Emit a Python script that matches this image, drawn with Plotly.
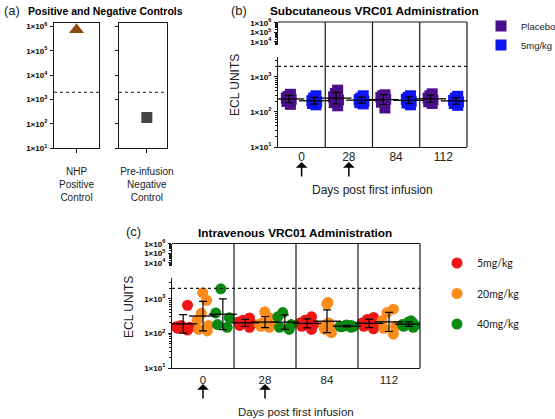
import numpy as np
import plotly.graph_objects as go

W, H = 555, 419

# ---------------- data ----------------
control_labels = ["NHP<br>Positive<br>Control", "Pre-infusion<br>Negative<br>Control"]
control_values = [750000, 185]
threshold = 2000

days = ["0", "28", "84", "112"]
infusion_days = ["0", "28"]

sc_names = ["Placebo", "5mg/kg"]
sc_placebo = [[320, 280, 250, 230, 200, 165],
              [420, 340, 270, 220, 185, 150],
              [310, 290, 260, 230, 190, 130],
              [330, 290, 250, 220, 195, 175]]
sc_5mg = [[290, 250, 210, 195, 175, 160],
          [290, 250, 225, 205, 185, 170],
          [290, 260, 230, 200, 180, 160],
          [280, 250, 215, 195, 175, 155]]

iv_names = ["5mg/kg", "20mg/kg", "40mg/kg"]
iv_5 = [[650, 170, 155, 150, 140, 125],
        [280, 240, 210, 190, 170, 150],
        [300, 240, 200, 180, 160, 130],
        [290, 250, 200, 180, 160, 135]]
iv_20 = [[1500, 900, 380, 240, 170, 130, 118],
         [420, 290, 210, 185, 170, 160, 150],
         [780, 700, 200, 180, 160, 150, 130, 105],
         [500, 400, 230, 160, 140, 95]]
iv_40 = [[1940, 390, 285, 180, 150],
         [400, 300, 180, 150, 130],
         [175, 170, 165, 160, 158, 155, 150],
         [230, 215, 200, 190, 180, 170, 160, 150]]

# ---------------- styling ----------------
FONT = "Liberation Sans"
LINE = "#1a1a1a"
sc_colors = ["#4b0f8c", "#0f14f2"]
iv_colors = ["#f01616", "#fb8c1c", "#0b8a12"]

def px(p):
    return p / W

def py(p):
    return 1 - p / H

def dec_label(e):
    return "1×10<sup>%d</sup>" % e

tickfont = dict(family=FONT, size=8, color="black", weight="bold")
minor_all = [k * 10 ** e for e in range(1, 7) for k in range(2, 10)]

def log_axis(domain, rng, exps, anchor, labels=True, minor=True):
    d = dict(domain=domain, type="log", range=rng, anchor=anchor,
             tickmode="array", tickvals=[10 ** e for e in exps],
             ticktext=[dec_label(e) for e in exps],
             ticks="outside", ticklen=3, tickwidth=1, tickcolor=LINE,
             showline=True, linecolor=LINE, linewidth=1.2,
             showgrid=False, zeroline=False, tickfont=tickfont,
             showticklabels=labels, ticklabelstandoff=1)
    if minor:
        d["minor"] = dict(tickmode="array", tickvals=minor_all, ticks="outside",
                          ticklen=2, tickwidth=0.8, tickcolor=LINE, showgrid=False)
    return d

fig = go.Figure()

def geo_stats(vals):
    lg = np.log10(np.asarray(vals, dtype=float))
    m, s = lg.mean(), lg.std(ddof=1)
    c = 10 ** m
    return c, 10 ** (m + s) - c, c - 10 ** (m - s)

def add_group_series(series, colors, offsets, xa, ya, symbol, msize, bw, jit, mwidth):
    for si, (data, col) in enumerate(zip(series, colors)):
        for gi, vals in enumerate(data):
            xc = gi + 0.5 + offsets[si]
            fig.add_trace(go.Box(
                x=[xc] * len(vals), y=vals, xaxis=xa, yaxis=ya,
                boxpoints="all", jitter=jit, pointpos=0, width=bw,
                fillcolor="rgba(0,0,0,0)", line=dict(width=0, color="rgba(0,0,0,0)"),
                whiskerwidth=0, showlegend=False, hoverinfo="y",
                marker=dict(symbol=symbol, size=msize, color=col, line=dict(width=0))))
    for si, (data, col) in enumerate(zip(series, colors)):
        cs, ups, dns, xs = [], [], [], []
        for gi, vals in enumerate(data):
            c, u, d = geo_stats(vals)
            cs.append(c); ups.append(u); dns.append(d); xs.append(gi + 0.5 + offsets[si])
        fig.add_trace(go.Scatter(
            x=xs, y=cs, xaxis=xa, yaxis=ya, mode="markers", showlegend=False,
            marker=dict(symbol="line-ew", size=mwidth, color="black",
                        line=dict(width=1.3, color="black")),
            error_y=dict(type="data", array=ups, arrayminus=dns, symmetric=False,
                         thickness=1.2, width=4, color="black"),
            hoverinfo="skip"))

# ---------------- panel (a) ----------------
fig.add_trace(go.Scatter(x=[0], y=[control_values[0]], xaxis="x", yaxis="y", mode="markers",
                         marker=dict(symbol="triangle-up", size=13, color="#8a4a0c"),
                         showlegend=False))
fig.add_trace(go.Scatter(x=[0], y=[control_values[1]], xaxis="x2", yaxis="y2", mode="markers",
                         marker=dict(symbol="square", size=11, color="#444444"),
                         showlegend=False))
for xa, ya, xr in [("x", "y", [-0.5, 0.5]), ("x2", "y2", [-0.58, 0.42])]:
    fig.add_trace(go.Scatter(x=xr, y=[threshold, threshold], xaxis=xa, yaxis=ya, mode="lines",
                             line=dict(color=LINE, width=1.1, dash="dot"),
                             showlegend=False, hoverinfo="skip"))

# ---------------- panel (b) ----------------
add_group_series([sc_placebo, sc_5mg], sc_colors, [-0.27, 0.27], "x3", "y3",
                 "square", 11, 0.14, 0.9, 22)
fig.add_trace(go.Scatter(x=[0, len(days)], y=[threshold, threshold], xaxis="x3", yaxis="y3",
                         mode="lines", line=dict(color=LINE, width=1.1, dash="dot"),
                         showlegend=False, hoverinfo="skip"))
fig.add_trace(go.Scatter(x=[], y=[], xaxis="x3", yaxis="y4", showlegend=False))

# ---------------- panel (c) ----------------
add_group_series([iv_5, iv_20, iv_40], iv_colors, [-0.32, 0.0, 0.32], "x4", "y5",
                 "circle", 11, 0.3, 0.9, 20)
fig.add_trace(go.Scatter(x=[0, len(days)], y=[threshold, threshold], xaxis="x4", yaxis="y5",
                         mode="lines", line=dict(color=LINE, width=1.1, dash="dot"),
                         showlegend=False, hoverinfo="skip"))
fig.add_trace(go.Scatter(x=[], y=[], xaxis="x4", yaxis="y6", showlegend=False))

# ---------------- legends (one small legend per entry) ----------------
legend_layout = {}
lid = 1
for k, (name, col) in enumerate(zip(sc_names, sc_colors)):
    key = "legend" if lid == 1 else "legend%d" % lid
    fig.add_trace(go.Scatter(x=[None], y=[None], xaxis="x3", yaxis="y3", mode="markers",
                             name=name, legend=key,
                             marker=dict(symbol="square", size=11, color=col)))
    legend_layout[key] = dict(x=px(481), y=py(26 + 19 * k), xanchor="left", yanchor="middle",
                              bgcolor="rgba(0,0,0,0)",
                              font=dict(family=FONT, size=9.5, color="#222"))
    lid += 1
for k, (name, col) in enumerate(zip(iv_names, iv_colors)):
    key = "legend%d" % lid
    fig.add_trace(go.Scatter(x=[None], y=[None], xaxis="x4", yaxis="y5", mode="markers",
                             name=name, legend=key,
                             marker=dict(symbol="circle", size=11, color=col)))
    legend_layout[key] = dict(x=px(437), y=py(263 + 30.5 * k), xanchor="left",
                              yanchor="middle", bgcolor="rgba(0,0,0,0)",
                              font=dict(family="Lato", size=10.5, color="#222"))
    lid += 1
fig.update_layout(**legend_layout)

# ---------------- axes ----------------
exps_a = [1, 2, 3, 4, 5, 6]
xa_common = dict(showline=True, linecolor=LINE, linewidth=1.2, mirror=True, showgrid=False,
                 zeroline=False, ticks="outside", ticklen=4, tickcolor=LINE,
                 tickfont=dict(family=FONT, size=10, color="#222"), ticklabelstandoff=10,
                 tickmode="array")
fig.update_layout(
    xaxis=dict(domain=[px(54), px(99)], range=[-0.5, 0.5], anchor="y",
               tickvals=[0], ticktext=[control_labels[0]], **xa_common),
    xaxis2=dict(domain=[px(119), px(167)], range=[-0.58, 0.42], anchor="y2",
                tickvals=[0], ticktext=[control_labels[1]], **xa_common),
    yaxis={**log_axis([py(148.3), py(22.7)], [1, 6.16], exps_a, "x", minor=False), "mirror": True},
    yaxis2={**log_axis([py(148.3), py(22.7)], [1, 6.16], exps_a, "x2", labels=False, minor=False),
            "mirror": True},
    xaxis3=dict(domain=[px(278), px(467)], range=[0, len(days)], anchor="y3",
                tickmode="array", tickvals=[i + 0.5 for i in range(len(days))], ticktext=days,
                showline=True, linecolor=LINE, linewidth=1.2, showgrid=False, zeroline=False,
                ticks="", tickfont=dict(family=FONT, size=12, color="#222"), ticklabelstandoff=-2),
    yaxis3=log_axis([py(147), py(57)], [1, 3.57], [1, 2, 3], "x3"),
    yaxis4=log_axis([py(45), py(22)], [3.68, 6.1], [4, 5, 6], "x3"),
    xaxis4=dict(domain=[px(172), px(420)], range=[0, len(days)], anchor="y5",
                tickmode="array", tickvals=[i + 0.5 for i in range(len(days))], ticktext=days,
                showline=True, linecolor=LINE, linewidth=1.2, showgrid=False, zeroline=False,
                ticks="", tickfont=dict(family=FONT, size=11.5, color="#222"), ticklabelstandoff=1),
    yaxis5=log_axis([py(368), py(278)], [1, 3.6], [1, 2, 3], "x4"),
    yaxis6=log_axis([py(266), py(243.5)], [3.68, 6.05], [4, 5, 6], "x4"),
)

# frame lines for the broken-axis panels
shapes = []
for xa, top, bottom in [("x3", 22, 147), ("x4", 243.5, 368)]:
    line = dict(color=LINE, width=1.2)
    shapes.append(dict(type="line", xref=xa + " domain", yref="paper", x0=0, x1=1,
                       y0=py(top), y1=py(top), line=line))
    shapes.append(dict(type="line", xref=xa + " domain", yref="paper", x0=1, x1=1,
                       y0=py(bottom), y1=py(top), line=line))
    for k in range(1, len(days)):
        shapes.append(dict(type="line", xref=xa, yref="paper", x0=k, x1=k,
                           y0=py(bottom), y1=py(top), line=line))
fig.update_layout(shapes=shapes)

# ---------------- annotations ----------------
ann = []
tfont = dict(family=FONT, size=10.5, color="black", weight="bold")
tfont2 = dict(family=FONT, size=11.8, color="black", weight="bold")
lfont = dict(family=FONT, size=13, color="#222")
ann += [
    dict(text="(a)", x=px(2), y=py(11), xanchor="left", yanchor="middle", font=lfont),
    dict(text="Positive and Negative Controls", x=px(26), y=py(11), xanchor="left",
         yanchor="middle", font=tfont),
    dict(text="(b)", x=px(229), y=py(11), xanchor="left", yanchor="middle", font=lfont),
    dict(text="Subcutaneous VRC01 Administration", x=px(268), y=py(11), xanchor="left",
         yanchor="middle", font=tfont2),
    dict(text="(c)", x=px(124), y=py(232), xanchor="left", yanchor="middle", font=lfont),
    dict(text="Intravenous VRC01 Administration", x=px(295), y=py(233), xanchor="center",
         yanchor="middle", font=tfont2),
    dict(text="ECL UNITS", x=px(235), y=py(85), textangle=-90, xanchor="center",
         yanchor="middle", font=dict(family=FONT, size=12, color="#222")),
    dict(text="ECL UNITS", x=px(129), y=py(307), textangle=-90, xanchor="center",
         yanchor="middle", font=dict(family=FONT, size=12, color="#222")),
    dict(text="Days post first infusion", xref="x3 domain", x=0.5, y=py(190),
         xanchor="center", yanchor="middle", font=dict(family=FONT, size=12, color="#222")),
    dict(text="Days post first infusion", xref="x4 domain", x=0.5, y=py(412),
         xanchor="center", yanchor="middle", font=dict(family=FONT, size=11.5, color="#222")),
]
for xa, tip in [("x3", 162), ("x4", 384)]:
    for d in infusion_days:
        ann.append(dict(text="", xref=xa, x=days.index(d) + 0.5, y=py(tip), showarrow=True,
                        ax=0, ay=16, arrowhead=1, arrowsize=1.3, arrowwidth=1.5,
                        arrowcolor="black"))
for a in ann:
    a.setdefault("xref", "paper")
    a.setdefault("yref", "paper")
    a.setdefault("showarrow", False)
fig.update_layout(annotations=ann)

fig.update_layout(
    width=W, height=H, margin=dict(l=0, r=0, t=0, b=0, autoexpand=False),
    paper_bgcolor="white", plot_bgcolor="rgba(0,0,0,0)",
)

fig.write_html("out.html", config={"displayModeBar": False},
               post_script="document.body.style.margin='0px';")
